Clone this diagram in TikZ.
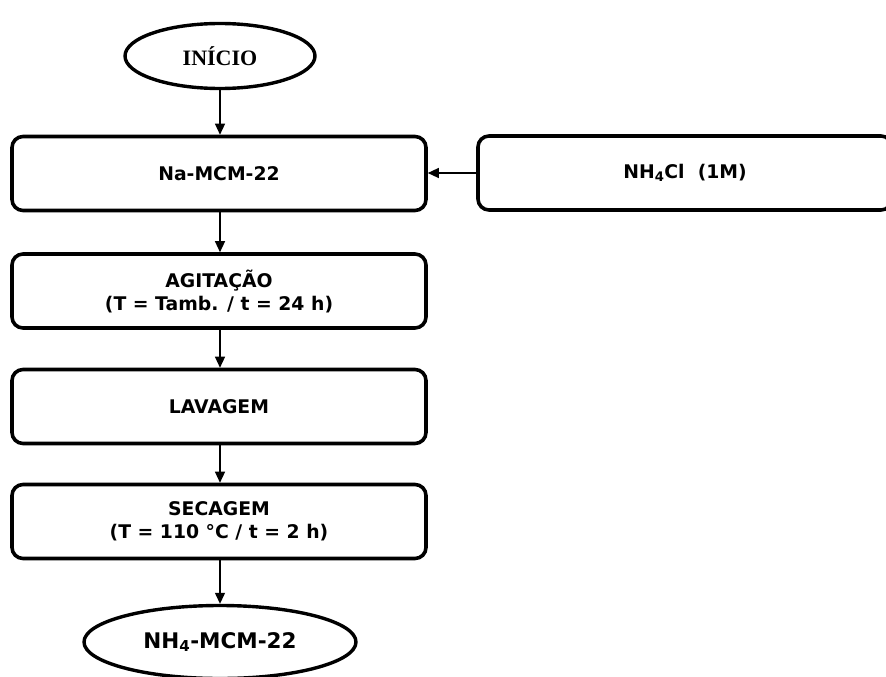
\documentclass[tikz,border=0pt]{standalone}
\usepackage{fontspec}
\setmainfont{DejaVu Sans}
\newfontfamily\titleserif{Liberation Serif}
\usetikzlibrary{arrows.meta,shapes.geometric}
\begin{document}
\begin{tikzpicture}[x=1pt,y=-1pt,
  stepbox/.style={draw, line width=3.6pt, rounded corners=11pt,
    minimum width=414pt, minimum height=74pt, align=center, inner sep=0pt,
    font=\fontsize{18.8}{23}\selectfont\bfseries},
  terminal/.style={draw, ellipse, line width=3.4pt, inner sep=0pt},
  flow/.style={-{Triangle[length=11pt,width=10pt]}, line width=1.3pt}]
\clip (0,0) rectangle (886,677);
\fill[white] (0,0) rectangle (886,677);

% start and end terminals
\node[terminal, minimum width=190pt, minimum height=65pt,
  font=\fontsize{22}{26}\selectfont\titleserif\bfseries] (inicio) at (220,56) {INÍCIO};
\node[terminal, minimum width=272pt, minimum height=73pt,
  font=\fontsize{21.5}{25}\selectfont\bfseries] (fim) at (220,642) {NH\textsubscript{4}-MCM-22};

% process steps
\node[stepbox] (na) at (219,173.5) {Na-MCM-22};
\node[stepbox] (nh4cl) at (685,173) {NH\textsubscript{4}Cl\ \ (1M)};
\node[stepbox] (agit) at (219,291) {AGITAÇÃO\\(T = Tamb. / t = 24 h)};
\node[stepbox] (lav) at (219,406.5) {LAVAGEM};
\node[stepbox] (sec) at (219,521.5) {SECAGEM\\(T = 110 °C / t = 2 h)};

% connectors
\draw[flow] (inicio.south) -- (inicio.south |- na.north);
\draw[flow] (nh4cl.west) -- (na.east |- nh4cl.west);
\draw[flow] (inicio.south |- na.south) -- (inicio.south |- agit.north);
\draw[flow] (inicio.south |- agit.south) -- (inicio.south |- lav.north);
\draw[flow] (inicio.south |- lav.south) -- (inicio.south |- sec.north);
\draw[flow] (inicio.south |- sec.south) -- (fim.north);
\end{tikzpicture}
\end{document}
